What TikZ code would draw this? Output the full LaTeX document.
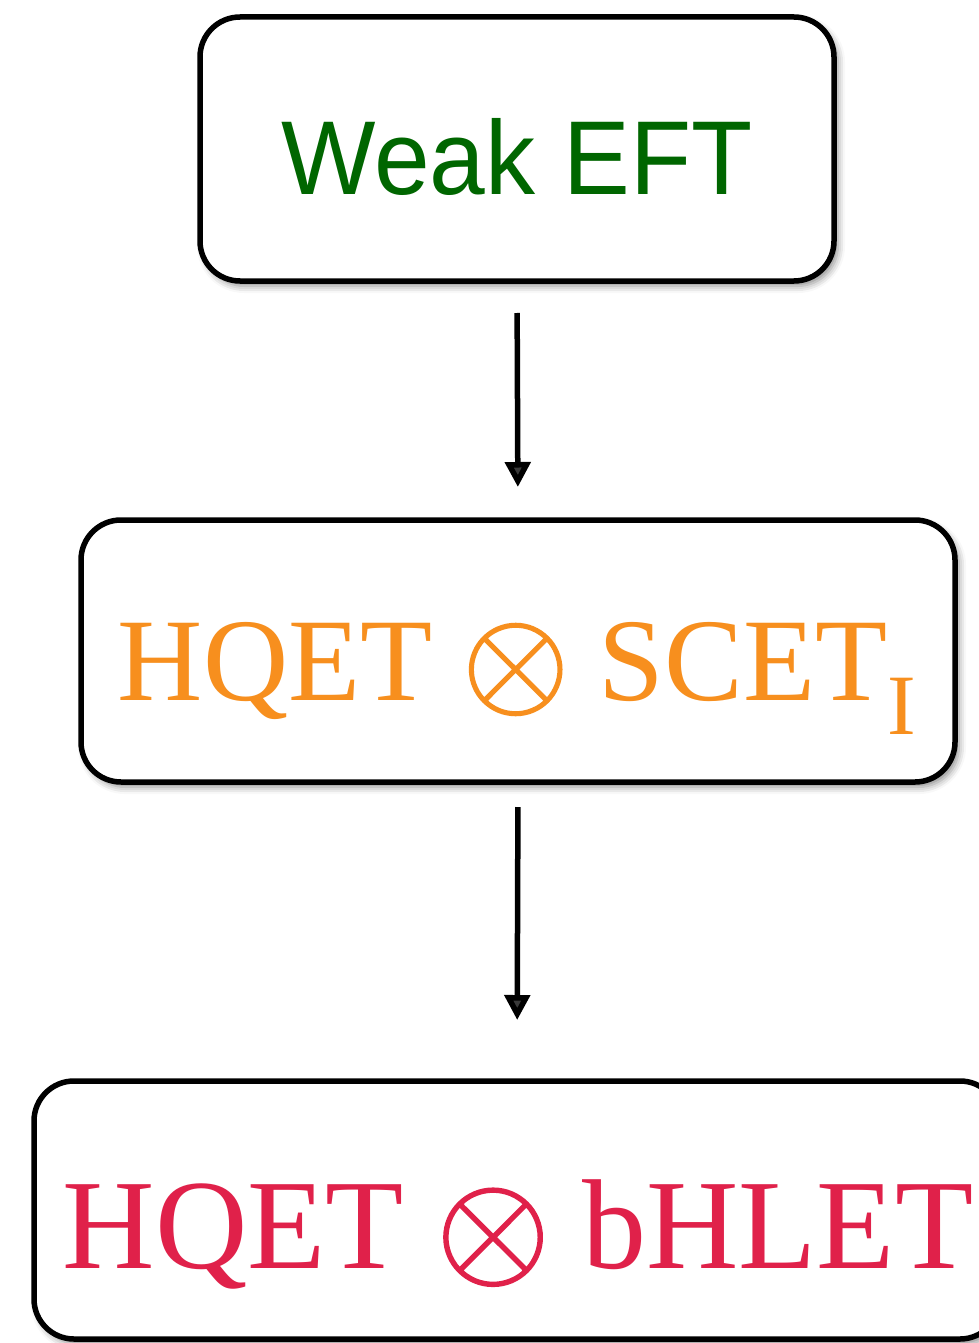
\documentclass[tikz,border=0pt]{standalone}
\usepackage{fontspec}
\setmainfont{Liberation Serif}
\newfontfamily\sansf{Liberation Sans}
\usetikzlibrary{arrows.meta,shadows.blur}
\definecolor{weakgreen}{RGB}{0,102,0}
\definecolor{scetorange}{RGB}{247,143,30}
\definecolor{hletred}{RGB}{224,33,74}
\newcommand{\bigotimesglyph}[2]{\raisebox{#2}{\fontsize{10}{10}\selectfont\scalebox{#1}{\special{pdf:literal direct 2 Tr 0.12 w}$\otimes$\special{pdf:literal direct 0 Tr}}}}
\tikzset{
  eftbox/.style={draw=black, line width=5.5pt, rounded corners=40pt, fill=white, inner sep=0pt, outer sep=0pt,
    blur shadow={shadow xshift=4pt, shadow yshift=-5pt, shadow blur radius=7pt, shadow opacity=45}},
  eftlabel/.style={anchor=base, inner sep=0pt, outer sep=0pt},
  flowarrow/.style={line width=5.5pt, -{Triangle[length=25pt,width=25pt]}}
}
\begin{document}
\begin{tikzpicture}[x=1pt,y=-1pt]
\useasboundingbox (0,0) rectangle (978,1343);
\path[eftbox] (200,17) rectangle (834,281);
\node[minimum width=634pt, minimum height=264pt, inner sep=0pt, outer sep=0pt] (weak) at (517,149) {};
\path[eftbox] (81,520) rectangle (955,782);
\node[minimum width=874pt, minimum height=262pt, inner sep=0pt, outer sep=0pt] (scet) at (518,651) {};
\path[eftbox] (34,1081) rectangle (1000,1339);
\node[minimum width=966pt, minimum height=258pt, inner sep=0pt, outer sep=0pt] (hlet) at (517,1210) {};
\node[eftlabel, text=weakgreen] (weaktext) at (517,195) {\scalebox{0.953}[1]{\sansf\fontsize{105}{105}\selectfont Weak EFT}};
\node[eftlabel, text=scetorange] (scettext) at (517,700) {\fontsize{118}{118}\selectfont HQET \bigotimesglyph{13.8}{-4pt} SCET\raisebox{-34pt}{\fontsize{86}{86}\selectfont I}};
\node[eftlabel, text=hletred] (hlettext) at (518,1268) {\fontsize{128}{128}\selectfont HQET \bigotimesglyph{14.7}{-6pt} bHLET};
\draw[flowarrow, shorten <=32pt, shorten >=33pt] (weak.south) -- (scet.north);
\draw[flowarrow, shorten <=25pt, shorten >=61pt] (scet.south) -- (hlet.north);
\end{tikzpicture}
\end{document}
